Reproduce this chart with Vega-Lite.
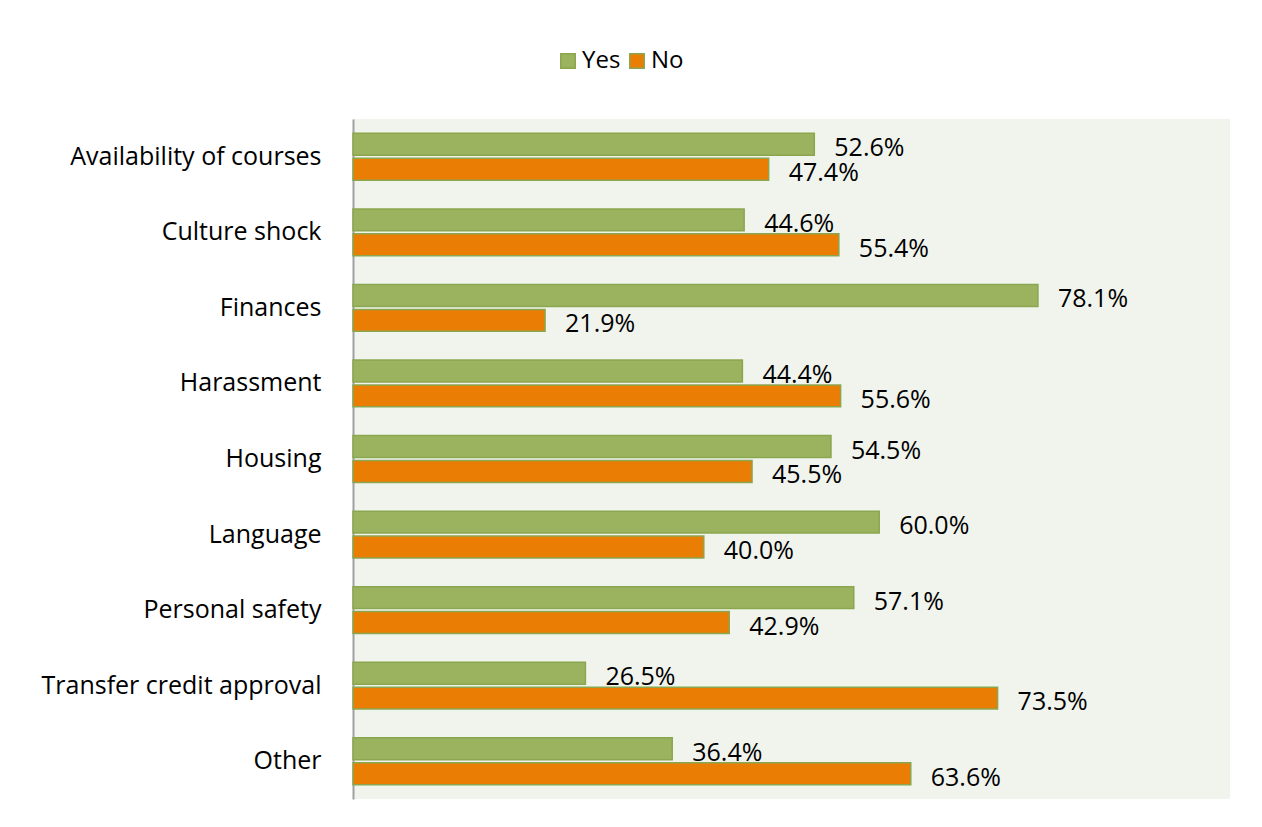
{
  "$schema": "https://vega.github.io/schema/vega-lite/v6.json",
  "width": 877,
  "height": 680,
  "autosize": {"type": "none"},
  "padding": {"left": 353, "top": 119, "right": 32, "bottom": 28},
  "background": "white",
  "config": {
    "view": {"fill": "#F1F4ED", "stroke": null},
    "font": "Open Sans"
  },
  "data": {
    "values": [
      {"issue": "Availability of courses", "response": "Yes", "share": 0.526},
      {"issue": "Availability of courses", "response": "No", "share": 0.474},
      {"issue": "Culture shock", "response": "Yes", "share": 0.446},
      {"issue": "Culture shock", "response": "No", "share": 0.554},
      {"issue": "Finances", "response": "Yes", "share": 0.781},
      {"issue": "Finances", "response": "No", "share": 0.219},
      {"issue": "Harassment", "response": "Yes", "share": 0.444},
      {"issue": "Harassment", "response": "No", "share": 0.556},
      {"issue": "Housing", "response": "Yes", "share": 0.545},
      {"issue": "Housing", "response": "No", "share": 0.455},
      {"issue": "Language", "response": "Yes", "share": 0.600},
      {"issue": "Language", "response": "No", "share": 0.400},
      {"issue": "Personal safety", "response": "Yes", "share": 0.571},
      {"issue": "Personal safety", "response": "No", "share": 0.429},
      {"issue": "Transfer credit approval", "response": "Yes", "share": 0.265},
      {"issue": "Transfer credit approval", "response": "No", "share": 0.735},
      {"issue": "Other", "response": "Yes", "share": 0.364},
      {"issue": "Other", "response": "No", "share": 0.636}
    ]
  },
  "encoding": {
    "y": {
      "field": "issue",
      "type": "nominal",
      "sort": ["Availability of courses", "Culture shock", "Finances", "Harassment", "Housing", "Language", "Personal safety", "Transfer credit approval", "Other"],
      "scale": {"paddingInner": 0.38, "paddingOuter": 0.19},
      "axis": {
        "title": null,
        "ticks": false,
        "domainColor": "#A0A0A0",
        "domainWidth": 2,
        "labelFontSize": 25,
        "labelColor": "#000000",
        "labelPadding": 32,
        "labelLimit": 0,
        "labelFont": "Open Sans"
      }
    },
    "yOffset": {
      "field": "response",
      "type": "nominal",
      "sort": ["Yes", "No"],
      "scale": {"paddingInner": 0.12}
    },
    "x": {
      "field": "share",
      "type": "quantitative",
      "scale": {"domain": [0, 1], "nice": false},
      "axis": null
    }
  },
  "layer": [
    {
      "mark": {"type": "bar", "stroke": "#8AA64F", "strokeWidth": 1.5},
      "encoding": {
        "color": {
          "field": "response",
          "type": "nominal",
          "sort": ["Yes", "No"],
          "scale": {"domain": ["Yes", "No"], "range": ["#9BB35F", "#EA7E04"]},
          "legend": {
            "title": null,
            "orient": "none",
            "direction": "horizontal",
            "legendX": 203,
            "legendY": -70,
            "symbolType": "square",
            "symbolSize": 210,
            "symbolStrokeColor": "#8AA64F",
            "symbolStrokeWidth": 1.5,
            "labelFontSize": 24,
            "labelColor": "#000000",
            "labelFont": "Open Sans",
            "columnPadding": 4,
            "labelOffset": 2
          }
        }
      }
    },
    {
      "mark": {"type": "text", "align": "left", "baseline": "middle", "dx": 20, "dy": 4, "fontSize": 25, "color": "#000000", "font": "Open Sans"},
      "encoding": {
        "text": {"field": "share", "type": "quantitative", "format": ".1%"}
      }
    }
  ]
}
